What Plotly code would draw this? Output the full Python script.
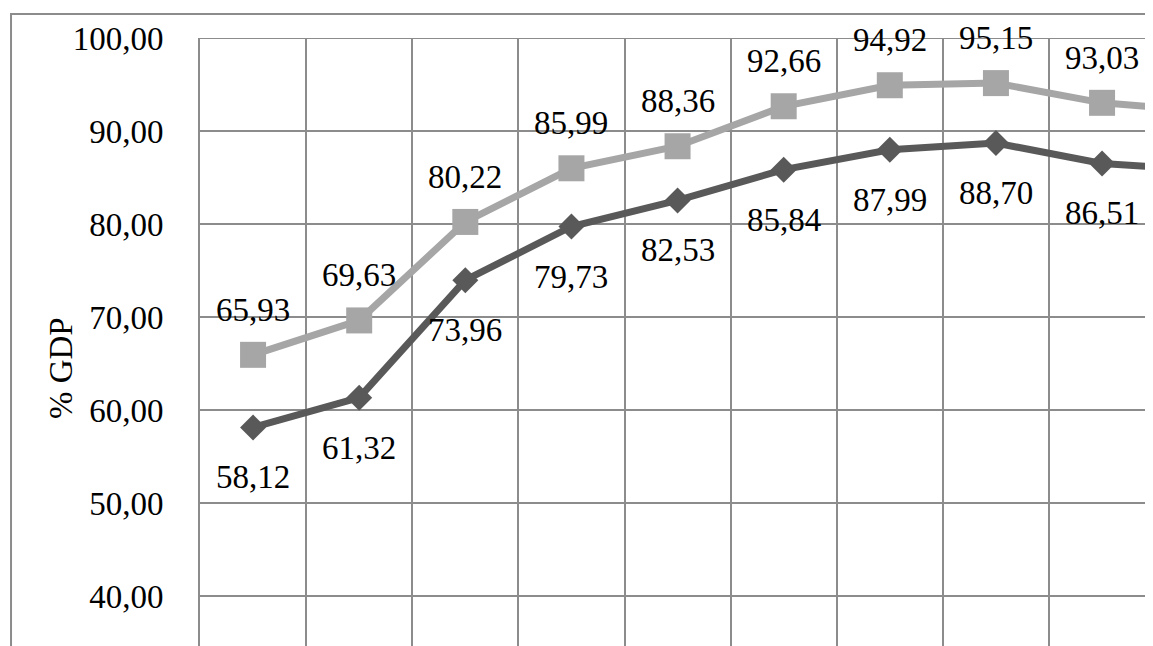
import plotly.graph_objects as go

categories = ["1", "2", "3", "4", "5", "6", "7", "8", "9", "10"]
series_light = [65.93, 69.63, 80.22, 85.99, 88.36, 92.66, 94.92, 95.15, 93.03, 92.1]
series_dark = [58.12, 61.32, 73.96, 79.73, 82.53, 85.84, 87.99, 88.70, 86.51, 85.75]
y_ticks = [40, 50, 60, 70, 80, 90, 100]
y_title = "% GDP"

FONT = "Liberation Serif"
GRID = "#8c8c8c"
LIGHT = "#a6a6a6"
DARK = "#595959"

def fmt(v):
    return f"{v:.2f}".replace(".", ",")

fig = go.Figure()
fig.add_trace(go.Scatter(
    x=categories, y=series_dark, mode="lines+markers",
    line=dict(color=DARK, width=7),
    marker=dict(symbol="diamond", size=20, color=DARK),
    cliponaxis=True, showlegend=False))
fig.add_trace(go.Scatter(
    x=categories, y=series_light, mode="lines+markers",
    line=dict(color=LIGHT, width=7),
    marker=dict(symbol="square", size=26, color=LIGHT),
    cliponaxis=True, showlegend=False))

annotations = []
for i, v in enumerate(series_light[:9]):
    annotations.append(dict(x=i, y=v, xref="x", yref="y", text=fmt(v),
                            showarrow=False, yshift=45,
                            font=dict(family=FONT, size=33, color="black")))
for i, v in enumerate(series_dark[:9]):
    annotations.append(dict(x=i, y=v, xref="x", yref="y", text=fmt(v),
                            showarrow=False, yshift=-50,
                            font=dict(family=FONT, size=33, color="black")))
annotations.append(dict(x=-0.1459, y=0.457, xref="paper", yref="paper",
                        xanchor="center", yanchor="middle",
                        text=y_title, textangle=-90, showarrow=False,
                        font=dict(family=FONT, size=33, color="black")))

fig.update_layout(
    width=1145, height=638,
    margin=dict(l=192, r=0, t=30, b=0, pad=0),
    paper_bgcolor="white", plot_bgcolor="white",
    separators=",.",
    font=dict(family=FONT, size=33, color="black"),
    annotations=annotations,
    shapes=[
        dict(type="rect", xref="paper", yref="paper",
             x0=-0.1983, x1=1.2, y0=-0.2, y1=1.0395,
             line=dict(color=GRID, width=2), layer="below"),
        dict(type="line", xref="paper", yref="y",
             x0=0, x1=1, y0=100, y1=100,
             line=dict(color=GRID, width=2), layer="below"),
    ],
    xaxis=dict(type="category", range=[-0.5, 8.48], tickson="boundaries",
               showgrid=True, gridcolor=GRID, gridwidth=2,
               showticklabels=False, ticks="", zeroline=False, showline=False),
    yaxis=dict(range=[34.62, 100], tickvals=y_ticks, tickformat=".2f",
               showgrid=True, gridcolor=GRID, gridwidth=2,
               showline=True, linecolor=GRID, linewidth=2,
               ticks="", ticklabelstandoff=28, zeroline=False,
               tickfont=dict(family=FONT, size=33, color="black")),
)

fig.write_html("out.html")
